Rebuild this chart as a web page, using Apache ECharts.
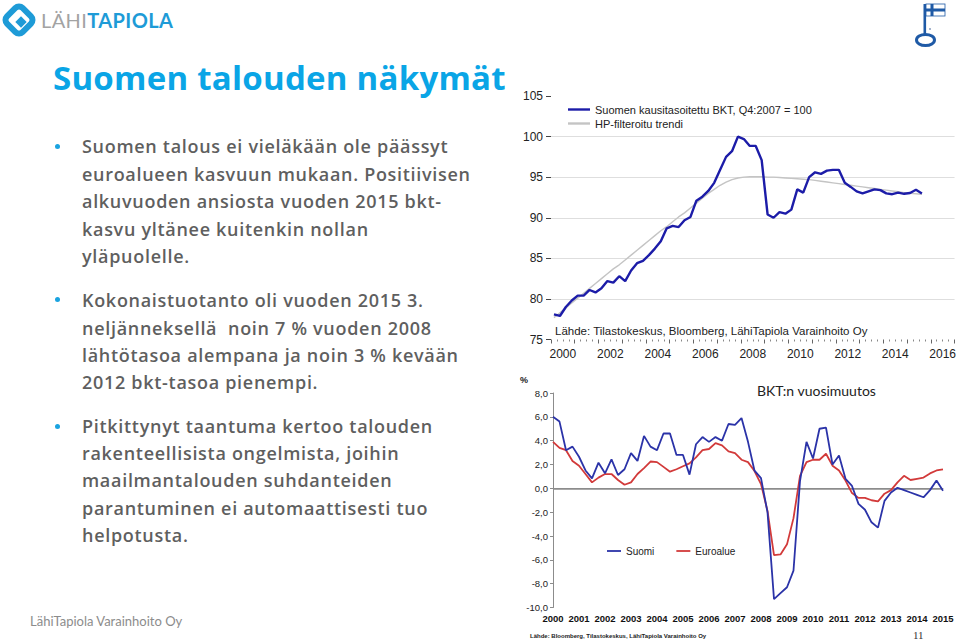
<!DOCTYPE html>
<html><head><meta charset="utf-8">
<script src="https://cdn.jsdelivr.net/npm/echarts@6/dist/echarts.min.js"></script>
<style>
html,body{margin:0;padding:0;background:#fff;width:959px;height:643px;overflow:hidden}
#chart{position:absolute;left:0;top:0;width:959px;height:643px}
.t{position:absolute;white-space:nowrap;font-family:Lato,"Open Sans",sans-serif;}
.b{font-family:"Open Sans",Lato,sans-serif;font-size:18px;line-height:18px;font-weight:600;color:#5f5f5f;left:82px;letter-spacing:0.7px}
.dot{position:absolute;width:5px;height:5px;border-radius:50%;background:#1aa3e0;left:55px}
</style></head>
<body>
<div id="chart"></div>
<svg style="position:absolute;left:0;top:0" width="40" height="42">
  <rect x="8" y="9" width="22" height="22" rx="5" transform="rotate(45 19 20)" fill="none" stroke="#1e9bd7" stroke-width="6"/>
  <rect x="17" y="18" width="8" height="8" transform="rotate(45 21 22)" fill="#1e9bd7"/>
</svg>
<div class="t" style="left:41px;top:10px;font-size:20px;line-height:20px;font-weight:700;letter-spacing:0.4px"><span style="color:#a3a3a3;font-weight:400">LÄHI</span><span style="color:#1e9bd7">TAPIOLA</span></div>
<svg style="position:absolute;left:905px;top:0" width="54" height="50">
  <rect x="18.5" y="4" width="2.6" height="30" fill="#1f5aa6"/>
  <rect x="21" y="4" width="19" height="12" fill="#fff" stroke="#1f5aa6" stroke-width="0.8"/>
  <rect x="25.5" y="4" width="3" height="12" fill="#1f5aa6"/>
  <rect x="21" y="8.5" width="19" height="3" fill="#1f5aa6"/>
  <ellipse cx="20.5" cy="40" rx="9" ry="5.6" fill="none" stroke="#1f5aa6" stroke-width="3"/>
  <circle cx="25" cy="29" r="0.9" fill="#7a8fb5"/>
</svg>
<div class="t" style="left:53px;top:61px;font-family:'Open Sans',Lato,sans-serif;font-size:33px;line-height:33px;font-weight:700;color:#0aa5e6;letter-spacing:0.25px">Suomen talouden näkymät</div>

<div class="dot" style="top:144px"></div>
<div class="t b" style="top:137px">Suomen talous ei vieläkään ole päässyt</div>
<div class="t b" style="top:165px">euroalueen kasvuun mukaan. Positiivisen</div>
<div class="t b" style="top:192px">alkuvuoden ansiosta vuoden 2015 bkt-</div>
<div class="t b" style="top:220px">kasvu yltänee kuitenkin nollan</div>
<div class="t b" style="top:247px">yläpuolelle.</div>

<div class="dot" style="top:297px"></div>
<div class="t b" style="top:291px">Kokonaistuotanto oli vuoden 2015 3.</div>
<div class="t b" style="top:319px">neljänneksellä&nbsp; noin 7 % vuoden 2008</div>
<div class="t b" style="top:346px">lähtötasoa alempana ja noin 3 % kevään</div>
<div class="t b" style="top:373px">2012 bkt-tasoa pienempi.</div>

<div class="dot" style="top:424px"></div>
<div class="t b" style="top:417px">Pitkittynyt taantuma kertoo talouden</div>
<div class="t b" style="top:444px">rakenteellisista ongelmista, joihin</div>
<div class="t b" style="top:471px">maailmantalouden suhdanteiden</div>
<div class="t b" style="top:499px">parantuminen ei automaattisesti tuo</div>
<div class="t b" style="top:526px">helpotusta.</div>

<div class="t" style="left:30px;top:615px;font-size:13px;line-height:13px;color:#8c8c8c">LähiTapiola Varainhoito Oy</div>

<script>
// ---------- Top chart: seasonally adjusted GDP (Q4:2007 = 100) ----------
const topQuarters = ("2000Q1 2000Q2 2000Q3 2000Q4 2001Q1 2001Q2 2001Q3 2001Q4 2002Q1 2002Q2 2002Q3 2002Q4 " +
  "2003Q1 2003Q2 2003Q3 2003Q4 2004Q1 2004Q2 2004Q3 2004Q4 2005Q1 2005Q2 2005Q3 2005Q4 " +
  "2006Q1 2006Q2 2006Q3 2006Q4 2007Q1 2007Q2 2007Q3 2007Q4 2008Q1 2008Q2 2008Q3 2008Q4 " +
  "2009Q1 2009Q2 2009Q3 2009Q4 2010Q1 2010Q2 2010Q3 2010Q4 2011Q1 2011Q2 2011Q3 2011Q4 " +
  "2012Q1 2012Q2 2012Q3 2012Q4 2013Q1 2013Q2 2013Q3 2013Q4 2014Q1 2014Q2 2014Q3 2014Q4 " +
  "2015Q1 2015Q2 2015Q3").split(" ");
const topGdp = [78.1, 77.9, 79.0, 79.8, 80.4, 80.4, 81.1, 80.8, 81.3, 82.2, 82.0, 82.8,
  82.2, 83.5, 84.4, 84.7, 85.4, 86.2, 87.1, 88.7, 89.0, 88.85, 89.7, 90.1,
  92.1, 92.6, 93.3, 94.3, 95.9, 97.5, 98.2, 100.0, 99.7, 98.85, 98.85, 97.1,
  90.4, 90.0, 90.7, 90.5, 91.0, 93.5, 93.1, 95.0, 95.6, 95.4, 95.8, 95.9,
  95.9, 94.3, 93.8, 93.25, 93.0, 93.25, 93.5, 93.4, 93.0, 92.9, 93.1, 92.95,
  93.05, 93.45, 93.0];
const topTrend = [77.7, 78.3, 78.9, 79.5, 80.1, 80.7, 81.3, 81.9, 82.5, 83.1, 83.7, 84.2,
  84.8, 85.4, 86.0, 86.6, 87.2, 87.8, 88.4, 88.9, 89.5, 90.1, 90.6, 91.2,
  91.8, 92.4, 93.0, 93.5, 94.0, 94.4, 94.7, 94.9, 95.0, 95.05, 95.05, 95.05,
  95.0, 95.0, 94.95, 94.9, 94.85, 94.8, 94.75, 94.7, 94.6, 94.5, 94.4, 94.3,
  94.2, 94.1, 94.0, 93.9, 93.8, 93.7, 93.6, 93.5, 93.4, 93.3, 93.2, 93.1,
  93.0, 92.95, 92.9];
const topYearLabels = ["2000","2001","2002","2003","2004","2005","2006","2007","2008",
  "2009","2010","2011","2012","2013","2014","2015","2016"];
const topSeriesNames = ["Suomen kausitasoitettu BKT, Q4:2007 = 100", "HP-filteroitu trendi"];
const topSource = "Lähde: Tilastokeskus, Bloomberg, LähiTapiola Varainhoito Oy";

// ---------- Bottom chart: annual GDP change, % ----------
const botQuarters = ("2000Q1 2000Q2 2000Q3 2000Q4 2001Q1 2001Q2 2001Q3 2001Q4 2002Q1 2002Q2 2002Q3 2002Q4 " +
  "2003Q1 2003Q2 2003Q3 2003Q4 2004Q1 2004Q2 2004Q3 2004Q4 2005Q1 2005Q2 2005Q3 2005Q4 " +
  "2006Q1 2006Q2 2006Q3 2006Q4 2007Q1 2007Q2 2007Q3 2007Q4 2008Q1 2008Q2 2008Q3 2008Q4 " +
  "2009Q1 2009Q2 2009Q3 2009Q4 2010Q1 2010Q2 2010Q3 2010Q4 2011Q1 2011Q2 2011Q3 2011Q4 " +
  "2012Q1 2012Q2 2012Q3 2012Q4 2013Q1 2013Q2 2013Q3 2013Q4 2014Q1 2014Q2 2014Q3 2014Q4 " +
  "2015Q1").split(" ");
const botSuomi = [6.0, 5.6, 3.2, 3.5, 2.65, 1.5, 0.84, 2.15, 1.26, 2.43, 1.12, 1.6,
  2.96, 2.3, 4.4, 3.5, 3.2, 4.6, 4.6, 2.8, 2.8, 1.15, 3.7, 4.3,
  3.9, 4.3, 4.0, 5.4, 5.33, 5.9, 3.9, 1.48, 0.85, -2.0, -9.3, -8.8,
  -8.3, -6.9, 0.6, 3.9, 2.5, 5.0, 5.1, 2.0, 2.75, 0.8, 0.2, -1.3,
  -1.8, -2.85, -3.3, -1.05, -0.35, 0.05, -0.15, -0.35, -0.55, -0.75, -0.15, 0.65,
  -0.2];
const botEuro = [3.9, 3.4, 3.2, 2.3, 1.9, 1.2, 0.5, 0.9, 1.2, 1.2, 0.7, 0.3,
  0.5, 1.2, 1.7, 2.25, 2.2, 1.8, 1.4, 1.6, 1.85, 2.1, 2.6, 3.2,
  3.3, 3.8, 3.6, 3.1, 2.95, 2.4, 2.2, 1.45, 0.35, -1.9, -5.6, -5.55,
  -4.7, -2.5, 1.05, 2.2, 2.4, 2.4, 2.9, 1.9, 1.5, 0.65, -0.4, -0.8,
  -0.8, -1.0, -1.1, -0.45, -0.15, 0.5, 1.05, 0.7, 0.8, 0.9, 1.25, 1.5,
  1.6];
const botSeriesNames = ["Suomi", "Euroalue"];
const botTitle = "BKT:n vuosimuutos";
const botUnit = "%";
const botSource = "Lähde: Bloomberg, Tilastokeskus, LähiTapiola Varainhoito Oy";
const pageNumber = "11";

const qToX = q => parseInt(q.slice(0,4),10) + (parseInt(q.slice(5),10) - 0.5) / 4;

const chart = echarts.init(document.getElementById('chart'), null, {renderer: 'svg'});
const AX = '"Liberation Sans", Arial, sans-serif';
const none = 'rgba(0,0,0,0)';
chart.setOption({
  animation: false,
  textStyle: {fontFamily: AX},
  grid: [
    {left: 551, top: 96, width: 404.5, height: 243.5},
    {left: 553, top: 393, width: 390, height: 214.5}
  ],
  xAxis: [
    {type: 'value', gridIndex: 0, min: 2000, max: 2017, interval: 1,
     axisLine: {show: false}, axisLabel: {show: false}, splitLine: {show: false},
     axisTick: {show: true, length: 4, lineStyle: {color: '#666'}},
     minorTick: {show: true, splitNumber: 4, length: 2, lineStyle: {color: '#888'}}},
    {type: 'category', gridIndex: 0, data: topYearLabels, boundaryGap: true, position: 'bottom',
     axisLine: {show: false}, axisTick: {show: false},
     axisLabel: {interval: 1, fontSize: 12, color: '#222', margin: 8, fontFamily: AX}},
    {type: 'category', gridIndex: 1, data: botQuarters, boundaryGap: false,
     axisLine: {show: true, lineStyle: {color: '#8c8c8c', width: 1}}, axisTick: {show: false},
     axisLabel: {interval: 3, formatter: v => v.slice(0,4), fontSize: 9.5, fontWeight: 'bold',
                 color: '#111', margin: 6, fontFamily: AX}}
  ],
  yAxis: [
    {type: 'value', gridIndex: 0, min: 75, max: 105, interval: 5,
     axisLine: {show: false}, axisTick: {show: true, length: 5, lineStyle: {color: '#444'}},
     axisLabel: {fontSize: 12, color: '#222', margin: 8, fontFamily: AX},
     splitLine: {show: true, lineStyle: {color: [none, '#dedede', '#dedede', '#dedede', '#dedede', '#dedede', none], width: 1}}},
    {type: 'value', gridIndex: 1, min: -10, max: 8, interval: 2,
     axisLine: {show: true, lineStyle: {color: '#8c8c8c', width: 1}},
     axisTick: {show: true, length: 3, lineStyle: {color: '#8c8c8c'}},
     axisLabel: {fontSize: 9.5, color: '#222', margin: 5, fontFamily: AX,
                 formatter: v => v.toFixed(1).replace('.', ',')},
     splitLine: {show: true, lineStyle: {color: [none, none, none, none, none, '#a9a9a9', none, none, none, none], width: 2}}}
  ],
  legend: [
    {data: topSeriesNames, left: 568, top: 104, padding: 0, orient: 'vertical', icon: 'rect', itemWidth: 22, itemHeight: 2.4,
     itemGap: 3, textStyle: {fontSize: 11, color: '#222', fontFamily: AX, lineHeight: 10}},
    {data: botSeriesNames, left: 607, top: 546, padding: 0, orient: 'horizontal', icon: 'rect', itemWidth: 14, itemHeight: 1.8,
     itemGap: 22, textStyle: {fontSize: 10, color: '#222', fontFamily: AX}}
  ],
  graphic: [
    {type: 'text', left: 555, top: 325, style: {text: topSource, fontSize: 11.5, fill: '#222', fontFamily: AX}},
    {type: 'text', left: 520, top: 375, style: {text: botUnit, fontSize: 9, fontWeight: 'bold', fill: '#222', fontFamily: AX}},
    {type: 'text', left: 757, top: 383, style: {text: botTitle, fontSize: 14, fill: '#222', fontFamily: 'Lato, "Open Sans", sans-serif'}},
    {type: 'text', left: 530, top: 633, style: {text: botSource, fontSize: 6, fontWeight: 'bold', fill: '#222', fontFamily: AX}},
    {type: 'text', left: 913, top: 629, style: {text: pageNumber, fontSize: 11, fill: '#333', fontFamily: '"Liberation Serif", "DejaVu Serif", serif'}}
  ],
  series: [
    {name: topSeriesNames[0], type: 'line', xAxisIndex: 0, yAxisIndex: 0, symbol: 'none', z: 3,
     data: topQuarters.map((q, i) => [qToX(q), topGdp[i]]),
     lineStyle: {color: '#1c1ca8', width: 2.4}, itemStyle: {color: '#1c1ca8'}},
    {name: topSeriesNames[1], type: 'line', xAxisIndex: 0, yAxisIndex: 0, symbol: 'none', z: 2,
     data: topQuarters.map((q, i) => [qToX(q), topTrend[i]]),
     lineStyle: {color: '#c4c4c4', width: 1.4}, itemStyle: {color: '#c4c4c4'}},
    {name: botSeriesNames[0], type: 'line', xAxisIndex: 2, yAxisIndex: 1, symbol: 'none', z: 3,
     data: botSuomi, lineStyle: {color: '#2b33a8', width: 1.8}, itemStyle: {color: '#2b33a8'}},
    {name: botSeriesNames[1], type: 'line', xAxisIndex: 2, yAxisIndex: 1, symbol: 'none', z: 2,
     data: botEuro, lineStyle: {color: '#d23a3a', width: 1.8}, itemStyle: {color: '#d23a3a'}}
  ]
});
</script>
</body></html>
